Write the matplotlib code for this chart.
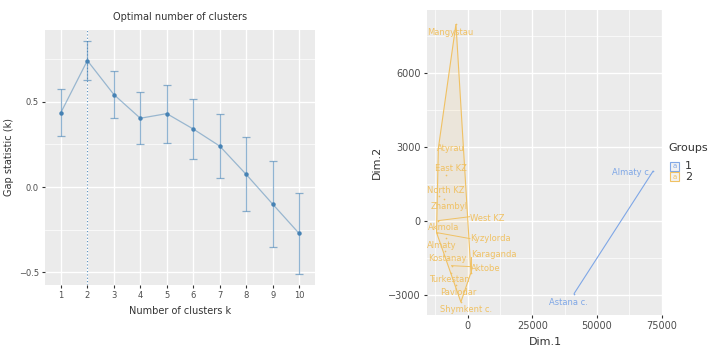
import numpy as np
import matplotlib
matplotlib.use("Agg")
import matplotlib.pyplot as plt
from matplotlib.patches import Rectangle, Polygon

# gap statistic data
k_values = [1, 2, 3, 4, 5, 6, 7, 8, 9, 10]
gap = [0.436, 0.741, 0.542, 0.403, 0.430, 0.340, 0.240, 0.074, -0.100, -0.272]
gap_se = [0.137, 0.116, 0.140, 0.153, 0.170, 0.174, 0.185, 0.217, 0.252, 0.237]
best_k = 2

# cluster plot data
regions = ["Mangystau", "Atyrau", "East KZ", "North KZ", "Zhambyl", "West KZ",
           "Akmola", "Kyzylorda", "Almaty", "Kostanay", "Karaganda", "Aktobe",
           "Turkestan", "Pavlodar", "Shymkent c.", "Almaty c.", "Astana c."]
dim1 = [-4500, -11300, -8200, -10970, -9160, -11400, -8400, -12000, -8650, -7600,
        1300, -6200, -6500, -4500, -2600, 71720, 41070]
dim2 = [8000, 2950, 1860, 1016, 880, 10, -690, -475, -1207, -1500,
        -2100, -1820, -2100, -2600, -3300, 2033, -2967]
group = [2, 2, 2, 2, 2, 2, 2, 2, 2, 2, 2, 2, 2, 2, 2, 1, 1]

# where the repelled labels ended up (data coords)
label_xy = {
    "Mangystau": (-6850, 7670), "Atyrau": (-6570, 2955), "East KZ": (-6570, 2114),
    "North KZ": (-8380, 1232), "Zhambyl": (-7230, 581), "West KZ": (4250, 110),
    "Akmola": (-9430, -256), "Kyzylorda": (4370, -732), "Almaty": (-10050, -1004),
    "Kostanay": (-7880, -1516), "Karaganda": (9900, -1382), "Aktobe": (7340, -1923),
    "Turkestan": (-7230, -2400), "Pavlodar": (-3630, -2900), "Shymkent c.": (-770, -3590),
    "Almaty c.": (63370, 1963), "Astana c.": (39030, -3306),
}
# labels joined to their point by a segment
seg_end = {"West KZ": (800, 170), "Kyzylorda": (900, -720),
           "Aktobe": (1200, -1860), "Karaganda": (1300, -1450)}

grp_col = {1: "#7FA7E6", 2: "#F0C163"}
grey_bg = "#EBEBEB"
steel = "#4682B4"
txt_grey = "#4D4D4D"

fig = plt.figure(figsize=(7.19, 3.52), dpi=100)


def gg_axes(ax):
    ax.set_facecolor(grey_bg)
    for s in ax.spines.values():
        s.set_visible(False)
    ax.grid(which="major", color="white", lw=1.0)
    ax.grid(which="minor", color="white", lw=0.5)
    ax.set_axisbelow(True)
    ax.tick_params(which="major", length=2.5, width=0.8, color="#333333",
                   labelcolor=txt_grey, labelsize=6, pad=2)
    ax.tick_params(which="minor", length=0)


# ---- left: gap statistic
ax1 = fig.add_axes([45 / 719, 67 / 352, 270 / 719, 255 / 352])
gg_axes(ax1)
ax1.errorbar(k_values, gap, yerr=gap_se, fmt="none", ecolor=steel, alpha=0.6,
             elinewidth=0.9, capsize=3, capthick=0.9)
ax1.plot(k_values, gap, color=steel, alpha=0.5, lw=0.9)
ax1.plot(k_values, gap, "o", color=steel, ms=2.2)
ax1.axvline(best_k, color=steel, ls=(0, (1, 2)), lw=0.8, alpha=0.9)
ax1.set_xlim(0.4, 10.6)
ax1.set_ylim(-0.574, 0.92)
ax1.set_xticks(k_values)
ax1.set_yticks([-0.5, 0.0, 0.5])
ax1.set_yticks([-0.25, 0.25, 0.75], minor=True)
ax1.set_xticklabels([str(k) for k in k_values])
ax1.set_title("Optimal number of clusters", fontsize=7, color="#333333", pad=7)
ax1.set_xlabel("Number of clusters k", fontsize=7, color="#333333", labelpad=4)
ax1.set_ylabel("Gap statistic (k)", fontsize=7, color="#333333", labelpad=3)

# ---- right: cluster plot
ax2 = fig.add_axes([426.7 / 719, 37 / 352, 236.6 / 719, 305 / 352])
gg_axes(ax2)
ax2.tick_params(which="major", labelsize=7)


def convex_hull(pts):
    pts = sorted(set(pts))
    if len(pts) < 3:
        return pts

    def cross(o, a, b):
        return (a[0] - o[0]) * (b[1] - o[1]) - (a[1] - o[1]) * (b[0] - o[0])
    lower, upper = [], []
    for p in pts:
        while len(lower) >= 2 and cross(lower[-2], lower[-1], p) <= 0:
            lower.pop()
        lower.append(p)
    for p in reversed(pts):
        while len(upper) >= 2 and cross(upper[-2], upper[-1], p) <= 0:
            upper.pop()
        upper.append(p)
    return lower[:-1] + upper[:-1]


for g in [1, 2]:
    pts = [(x, y) for x, y, gg in zip(dim1, dim2, group) if gg == g]
    hull = convex_hull(pts)
    ax2.add_patch(Polygon(hull, closed=True, facecolor=grp_col[g], alpha=0.12,
                          edgecolor="none"))
    ax2.add_patch(Polygon(hull, closed=True, facecolor="none",
                          edgecolor=grp_col[g], lw=0.8))
    xs = [p[0] for p in pts]
    ys = [p[1] for p in pts]
    ax2.plot(xs, ys, "o", color=grp_col[g], ms=1.2, mew=0)

for name, x, y, g in zip(regions, dim1, dim2, group):
    c = grp_col[g]
    if name in seg_end:
        ex, ey = seg_end[name]
        ax2.plot([x, ex], [y, ey], color=c, lw=0.7)
        ax2.text(ex, label_xy[name][1], name, color=c, fontsize=6,
                 ha="left", va="center")
    else:
        lx, ly = label_xy[name]
        ax2.text(lx, ly, name, color=c, fontsize=6, ha="center", va="center")

ax2.set_xlim(-15800, 75600)
ax2.set_ylim(-3826, 8573)
ax2.set_xticks([0, 25000, 50000, 75000])
ax2.set_xticks([-12500, 12500, 37500, 62500], minor=True)
ax2.set_yticks([-3000, 0, 3000, 6000])
ax2.set_yticks([-1500, 1500, 4500, 7500], minor=True)
ax2.set_xlabel("Dim.1", fontsize=8, color="#333333", labelpad=4)
ax2.set_ylabel("Dim.2", fontsize=8, color="#333333", labelpad=4)

# legend drawn by hand to mimic the ggplot keys
fig.text(668 / 719, 1 - 148 / 352, "Groups", fontsize=8, color="#333333",
         ha="left", va="center")
for i, g in enumerate([1, 2]):
    yc = 1 - (166 + i * 11) / 352
    fig.patches.append(Rectangle((670 / 719, yc - 4.5 / 352), 9 / 719, 9 / 352,
                                 transform=fig.transFigure, facecolor="#F2F2F2",
                                 edgecolor=grp_col[g], lw=0.8))
    fig.text(674.5 / 719, yc, "a", fontsize=5, color=grp_col[g],
             ha="center", va="center")
    fig.text(685 / 719, yc, str(g), fontsize=8, color="#333333",
             ha="left", va="center")

fig.savefig("out.png", dpi=100)
